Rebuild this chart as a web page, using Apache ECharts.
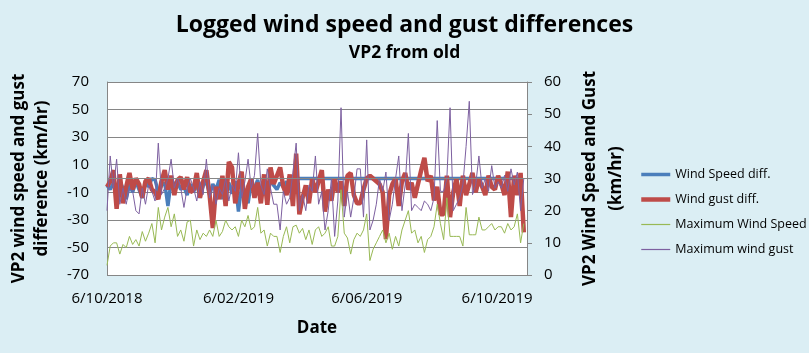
<!DOCTYPE html>
<html>
<head>
<meta charset="utf-8">
<script src="https://cdn.jsdelivr.net/npm/echarts@6/dist/echarts.min.js"></script>
<style>
  html, body { margin: 0; padding: 0; background: #dbeef4; }
  #chart { width: 809px; height: 353px; }
</style>
</head>
<body>
<div id="chart"></div>
<script>
// readings every 3 days, starting 6/10/2018
const startDate = '6/10/2018'
const stepDays = 3
const tickLabels = ['6/10/2018', '6/02/2019', '6/06/2019', '6/10/2019']

// left axis (km/hr difference)
const windSpeedDiff = [
  -5, -8, -3, -12, -2, -7, -15, -4, -10, -2, -8, -14, -3, -6, 0, -1, -10, -5, -3, -20, -2, -4, -2, -8, -6, -12, -4,
  -10, -3, -14, -5, -2, -12, -4, -8, -1, -15, -6, -3, -11, -2, -24, -5, -9, -18, -3, -7, -1, -12, -4, -6, -2, -5,
  -8, -3, -6, -2, -10, -4, -1, 0, 0, 0, 0, 0, 0, 0, 0, 0, 0, 0, 0, 0, 0, 0, 0, 0, 0,
  0, 0, 0, 0, 0, 0, 0, 0, 0, 0, 0, 0, 0, 0, 0, 0, 0, 0, 0, 0, 0, 0, 0, 0, 0, 0,
  0, 0, 0, 0, 0, 0, 0, 0, 0, 0, 0, 0, 0, 0, 0, 0, 0, 0, 0, 0, 0, 0, 0, 0, 0, 0
]
const windGustDiff = [
  -6, -2, 6, -22, 3, -18, -6, 4, -8, 0, -4, -14, -2, 0, -8, -10, -15, -2, 6, -8, 2, -12, -1, 1, -8, 1, -10,
  -8, 4, -14, -2, 6, -12, -36, -6, -15, 2, -20, 12, 8, -18, -4, 5, -22, -6, 0, -14, -3, -18, 3, -19, 8, -4,
  2, 8, -6, -12, 3, -20, 18, -26, -14, -5, -18, 0, -10, -2, 6, -24, -8, -16, 0, -10, -2, -20, 2, 4, -12, -18,
  -18, -8, 0, 2, 0, -2, -4, -10, -44, -12, -4, 0, -20, -2, 4, -8, -3, -14, -4, 6, 15, -2, 2, -16, -6, -26,
  -26, 2, -28, -10, 0, -20, 2, -12, -4, 4, -10, 0, -6, -12, 2, -6, -8, 2, -4, -12, 5, -28, 2, -12, 4, -39
]
// right axis (km/hr)
const maxWindSpeed = [
  3, 9, 10, 10, 6.5, 9.5, 8.5, 12, 9.5, 11, 9, 13.5, 10.5, 13, 16, 10, 21, 14, 18, 21, 15, 19, 12, 14, 10.5, 16.5, 17,
  9, 14, 11, 13, 12, 14, 12, 17, 12, 13.5, 17, 15, 14, 15, 12, 17, 15, 18.5, 14, 15, 21, 13, 14, 9, 13, 12,
  12, 7, 12, 15, 10, 15, 15.5, 13, 14.5, 11, 14, 9.5, 14, 15, 12, 13, 15, 9, 9, 12, 26.5, 13, 11.5, 6.5, 11, 13,
  12, 14, 19, 4.5, 8, 10, 12, 14, 10, 13, 8, 12, 9, 14, 17, 20, 13, 14, 10, 12, 7, 11, 12, 15, 22, 16,
  11, 24, 12, 12, 12, 12, 9, 21, 12.5, 12.5, 12.5, 18, 14, 14, 15, 16, 14, 15, 15, 13, 16, 14, 15, 19, 10, 16
]
const maxWindGust = [
  20, 37, 27, 36, 22, 27, 22, 27, 26, 20, 19, 27, 22, 28, 26, 23, 41, 25, 27, 30, 36, 27, 30, 27, 21, 27, 30,
  27, 23, 29, 25, 36, 24, 28, 22, 27, 25, 30, 23, 28, 26, 38, 24, 29, 36, 27, 31, 44, 28, 25, 33, 27, 22,
  22, 14, 26, 22, 24, 32, 41, 20, 25, 20, 28, 26, 37, 22, 26, 14, 20, 30, 12, 23, 52, 18, 26, 18, 24, 33,
  33, 18, 42, 14, 17, 22, 30, 26, 32, 17, 22, 30, 37, 20, 28, 44, 20, 22, 21, 20, 23, 22, 20, 24, 48, 26,
  26, 30, 52, 20, 22, 24, 28, 40, 54, 25, 28, 37, 27, 30, 26, 34, 27, 29, 27, 31, 26, 33, 28, 32, 20, 30
]

const DAY = 86400000
function parseDate(s) {
  const p = s.split('/')
  return Date.UTC(+p[2], +p[1] - 1, +p[0])
}
const t0 = parseDate(startDate)
// x axis is days since the start date
const tickDays = tickLabels.map(s => Math.round((parseDate(s) - t0) / DAY))
const withDays = arr => arr.map((v, i) => [i * stepDays, v])

const font = 'Open Sans'
const chart = echarts.init(document.getElementById('chart'))
chart.setOption({
  backgroundColor: '#dbeef4',
  animation: false,
  textStyle: { fontFamily: font, color: '#000' },
  title: [
    { text: 'Logged wind speed and gust differences', left: 'center', top: 9,
      textStyle: { fontFamily: font, fontSize: 23, fontWeight: 'bold', color: '#000' } },
    { text: 'VP2 from old', left: 'center', top: 39,
      textStyle: { fontFamily: font, fontSize: 17.5, fontWeight: 'bold', color: '#000' } }
  ],
  legend: {
    orient: 'vertical',
    left: 634,
    top: 163,
    itemWidth: 29,
    itemHeight: 14,
    itemGap: 12,
    itemStyle: { opacity: 0 },
    textStyle: { fontFamily: font, fontSize: 12.5, color: '#000' },
    data: [
      { name: 'Wind Speed diff.', lineStyle: { width: 3.5 } },
      { name: 'Wind gust diff.', lineStyle: { width: 4.5 } },
      { name: 'Maximum Wind Speed', lineStyle: { width: 1.2 } },
      { name: 'Maximum wind gust', lineStyle: { width: 1.2 } }
    ]
  },
  grid: { left: 106, right: 282, top: 82, bottom: 78, backgroundColor: '#fff', show: true, borderWidth: 0 },
  xAxis: {
    type: 'value',
    min: 0,
    max: 393,
    name: 'Date',
    nameLocation: 'middle',
    nameGap: 45,
    nameTextStyle: { fontFamily: font, fontSize: 17, fontWeight: 'bold', color: '#000' },
    axisLine: { show: false },
    axisTick: { show: false },
    splitLine: { show: false },
    axisLabel: {
      customValues: tickDays,
      showMinLabel: true,
      showMaxLabel: true,
      margin: 16,
      fontSize: 15,
      color: '#000',
      formatter: v => {
        const i = tickDays.indexOf(v)
        return i >= 0 ? tickLabels[i] : ''
      }
    }
  },
  yAxis: [
    {
      type: 'value', min: -70, max: 70, interval: 20,
      name: 'VP2 wind speed and gust\ndifference (km/hr)',
      nameLocation: 'middle', nameRotate: 90, nameGap: 53,
      nameTextStyle: { fontFamily: font, fontSize: 17, fontWeight: 'bold', color: '#000', lineHeight: 23 },
      axisLine: { show: true, lineStyle: { color: '#868686', width: 1 } },
      axisTick: { show: false },
      axisLabel: { margin: 18, fontSize: 15, color: '#000' },
      splitLine: { lineStyle: { color: '#868686', width: 1 } }
    },
    {
      type: 'value', min: 0, max: 60, interval: 10, position: 'right',
      name: 'VP2 Wind Speed and Gust\n(km/hr)',
      nameLocation: 'middle', nameRotate: 90, nameGap: 50,
      nameTextStyle: { fontFamily: font, fontSize: 17, fontWeight: 'bold', color: '#000', lineHeight: 26, verticalAlign: 'top' },
      axisLine: { show: true, lineStyle: { color: '#868686', width: 1 } },
      axisTick: { show: true, inside: false, length: 5, lineStyle: { color: '#868686' } },
      axisLabel: { margin: 17, fontSize: 15, color: '#000' },
      splitLine: { show: false }
    }
  ],
  series: [
    {
      name: 'Wind Speed diff.', type: 'line', yAxisIndex: 0, symbol: 'none',
      data: withDays(windSpeedDiff),
      lineStyle: { color: '#4a7ebb', width: 3.5 }, itemStyle: { color: '#4a7ebb' },
      markLine: {
        silent: true, symbol: 'none', label: { show: false },
        lineStyle: { color: '#868686', width: 1, type: 'solid' },
        data: [{ yAxis: 0 }]
      }
    },
    {
      name: 'Wind gust diff.', type: 'line', yAxisIndex: 0, symbol: 'none',
      data: withDays(windGustDiff),
      lineStyle: { color: '#be4b48', width: 4.5 }, itemStyle: { color: '#be4b48' }
    },
    {
      name: 'Maximum Wind Speed', type: 'line', yAxisIndex: 1, symbol: 'none',
      data: withDays(maxWindSpeed),
      lineStyle: { color: '#98b954', width: 1 }, itemStyle: { color: '#98b954' }
    },
    {
      name: 'Maximum wind gust', type: 'line', yAxisIndex: 1, symbol: 'none',
      data: withDays(maxWindGust),
      lineStyle: { color: '#7d60a0', width: 1 }, itemStyle: { color: '#7d60a0' }
    }
  ]
})
</script>
</body>
</html>
